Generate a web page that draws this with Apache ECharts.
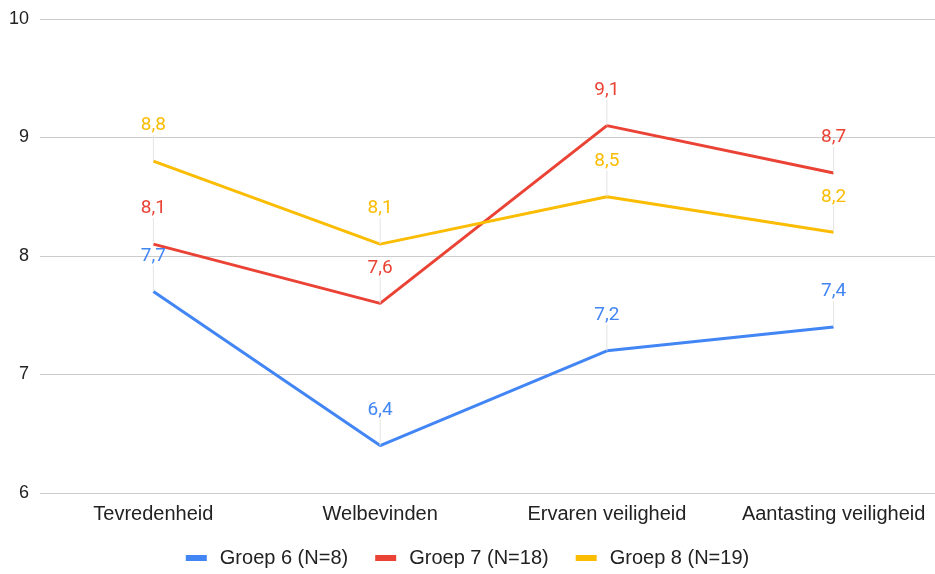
<!DOCTYPE html>
<html>
<head>
<meta charset="utf-8">
<script src="https://cdn.jsdelivr.net/npm/echarts@6/dist/echarts.min.js"></script>
<style>
html, body { margin: 0; padding: 0; background: #fff; }
#chart { width: 935px; height: 574px; }
</style>
</head>
<body>
<div id="chart"></div>
<script>
// categorieen en scores per groep
var categories = ['Tevredenheid', 'Welbevinden', 'Ervaren veiligheid', 'Aantasting veiligheid'];
var seriesNames = ['Groep 6 (N=8)', 'Groep 7 (N=18)', 'Groep 8 (N=19)'];
var groep6 = [7.7, 6.4, 7.2, 7.4];
var groep7 = [8.1, 7.6, 9.1, 8.7];
var groep8 = [8.8, 8.1, 8.5, 8.2];
var colors = ['#4285f4', '#ea4335', '#fbbc04'];

function makeSeries(name, data, color) {
  return {
    name: name,
    type: 'line',
    data: data,
    symbol: 'circle',
    symbolSize: 0.1,
    lineStyle: { width: 3, color: color },
    itemStyle: { color: color },
    label: {
      show: true,
      position: 'top',
      distance: 4,
      color: color,
      fontFamily: 'Roboto',
      fontSize: 19,
      formatter: function (p) { return String(p.value).replace('.', ','); }
    },
    labelLayout: { dy: -22, hideOverlap: false },
    labelLine: { show: true, lineStyle: { color: '#e3e3e3', width: 1 } }
  };
}

var myChart = echarts.init(document.getElementById('chart'));
myChart.setOption({
  animation: false,
  color: colors,
  textStyle: { fontFamily: 'Liberation Sans, Arial, sans-serif' },
  grid: { left: 40, top: 19, width: 907, bottom: 81, containLabel: false, outerBoundsMode: 'none' },
  legend: {
    bottom: 1,
    left: 'center',
    icon: 'rect',
    itemWidth: 21,
    itemHeight: 6,
    itemGap: 27,
    textStyle: { fontSize: 20, color: '#222', padding: [0, 0, 0, 8] },
    data: seriesNames
  },
  xAxis: {
    type: 'category',
    data: categories,
    axisLine: { show: false },
    axisTick: { show: false },
    axisLabel: { fontSize: 20, color: '#222', margin: 11, interval: 0 }
  },
  yAxis: {
    type: 'value',
    min: 6,
    max: 10,
    interval: 1,
    axisLabel: { fontSize: 18, color: '#222', margin: 11 },
    splitLine: { lineStyle: { color: '#cccccc', width: 1 } }
  },
  series: [
    makeSeries(seriesNames[0], groep6, colors[0]),
    makeSeries(seriesNames[1], groep7, colors[1]),
    makeSeries(seriesNames[2], groep8, colors[2])
  ]
});
</script>
</body>
</html>
